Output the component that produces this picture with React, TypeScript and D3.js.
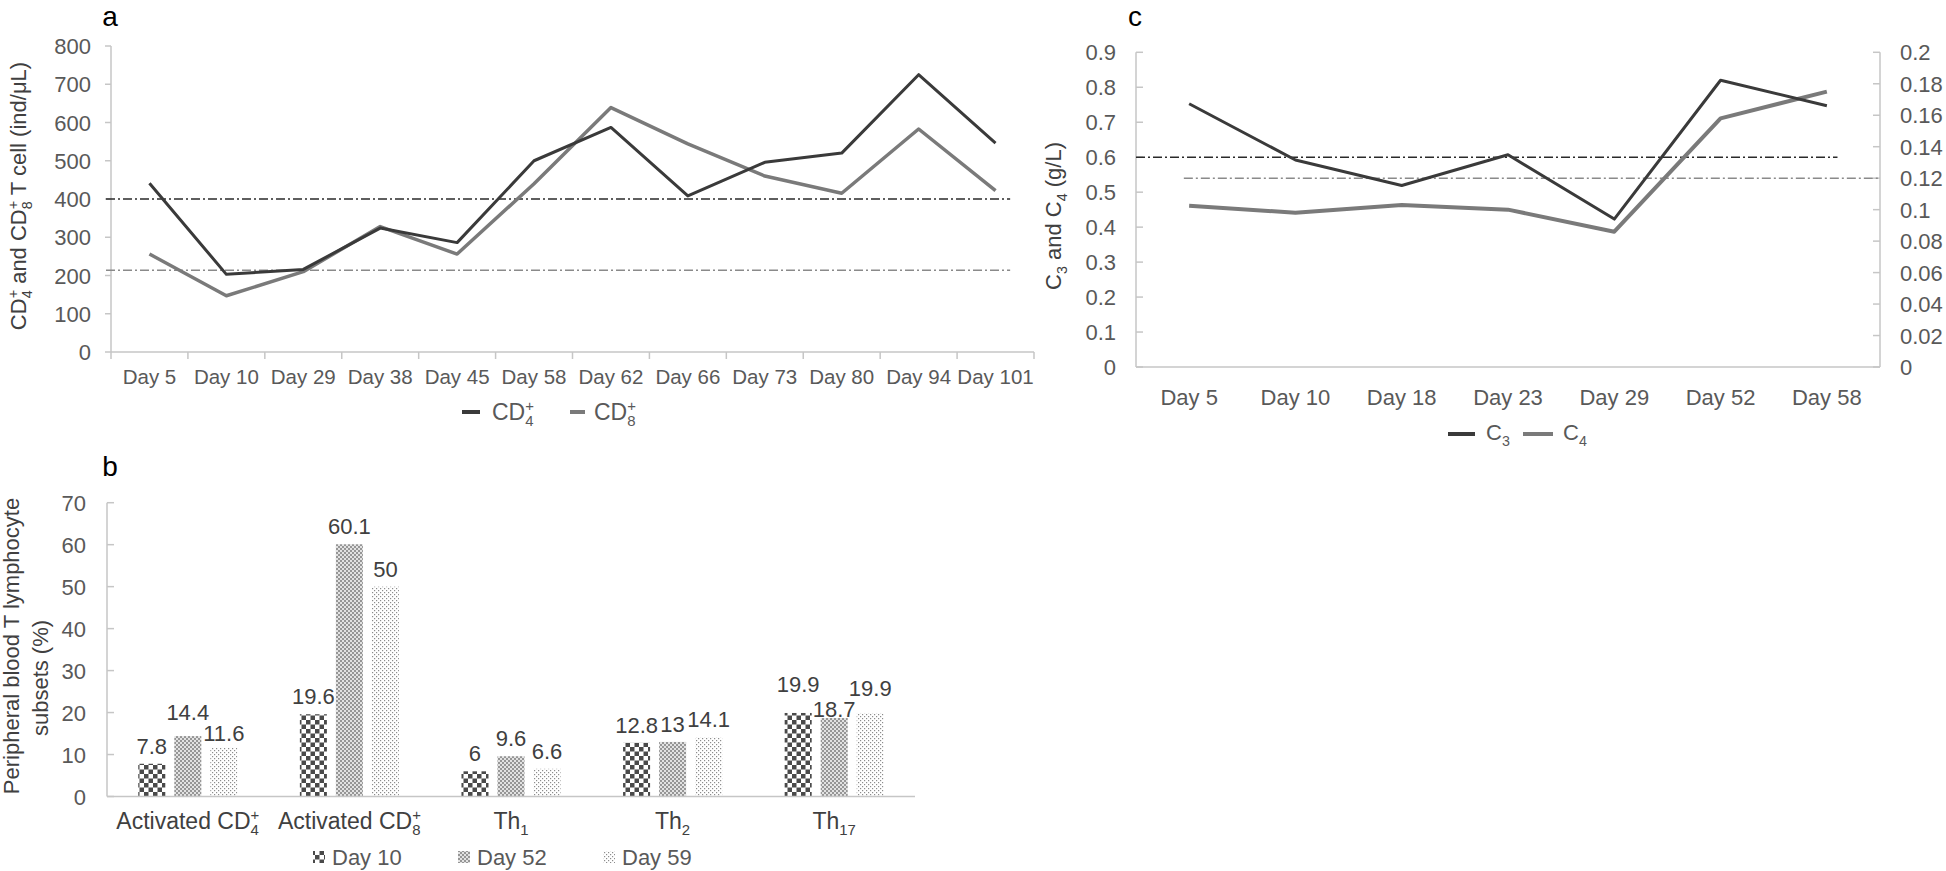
import React from "react";
import * as d3 from "d3";

// ---------- Panel a data ----------
const aDays = ["Day 5", "Day 10", "Day 29", "Day 38", "Day 45", "Day 58", "Day 62", "Day 66", "Day 73", "Day 80", "Day 94", "Day 101"];
const aCD4 = [441, 203, 216, 324, 286, 500, 587, 408, 496, 520, 725, 546];
const aCD8 = [256, 147, 210, 328, 256, 440, 639, 544, 460, 415, 583, 422];
const aTicks = [0, 100, 200, 300, 400, 500, 600, 700, 800];
const aRefCD4 = 400;
const aRefCD8 = 214;

// ---------- Panel b data ----------
const bCats = ["Activated CD4+", "Activated CD8+", "Th1", "Th2", "Th17"];
const bCatBase = ["Activated CD", "Activated CD", "Th", "Th", "Th"];
const bCatSub = ["4", "8", "1", "2", "17"];
const bCatSup = ["+", "+", "", "", ""];
const bSeries = ["Day 10", "Day 52", "Day 59"];
const bDay10 = [7.8, 19.6, 6, 12.8, 19.9];
const bDay52 = [14.4, 60.1, 9.6, 13, 18.7];
const bDay59 = [11.6, 50, 6.6, 14.1, 19.9];
const bTicks = [0, 10, 20, 30, 40, 50, 60, 70];

// ---------- Panel c data ----------
const cDays = ["Day 5", "Day 10", "Day 18", "Day 23", "Day 29", "Day 52", "Day 58"];
const cC3 = [0.753, 0.592, 0.519, 0.607, 0.423, 0.82, 0.747];
const cC4 = [0.1025, 0.098, 0.103, 0.1, 0.086, 0.158, 0.175];
const cLeftTicks = [0, 0.1, 0.2, 0.3, 0.4, 0.5, 0.6, 0.7, 0.8, 0.9];
const cRightTicks = [0, 0.02, 0.04, 0.06, 0.08, 0.1, 0.12, 0.14, 0.16, 0.18, 0.2];
const cRefC3 = 0.6;
const cRefC4 = 0.12;

const FONT = "'Liberation Sans', Arial, Helvetica, sans-serif";
const AXIS = "#c6c6c6";
const TICKTXT = "#595959";
const TITLE = "#404040";
const DARK = "#3a3a3a";
const GRAY = "#7a7a7a";
const FS = 22;

type Seg = { t: string; sub?: string; sup?: string };

function rich(segs: Seg[], fs: number) {
  const out: React.ReactNode[] = [];
  let shift = 0;
  const small = fs * 0.65;
  segs.forEach((s, i) => {
    out.push(
      <tspan key={`t${i}`} dy={shift ? -shift : undefined}>
        {s.t}
      </tspan>
    );
    shift = 0;
    if (s.sub) {
      out.push(
        <tspan key={`b${i}`} fontSize={small} dy={fs * 0.28}>
          {s.sub}
        </tspan>
      );
      shift = fs * 0.28;
    }
    if (s.sup) {
      const back = s.sub ? s.sub.length * 0.556 * small : 0;
      const target = -fs * 0.38;
      out.push(
        <tspan key={`p${i}`} fontSize={small} dx={-back} dy={target - shift}>
          {s.sup}
        </tspan>
      );
      shift = target;
    }
  });
  return out;
}

const fmt = (v: number) => String(+v.toFixed(2));

export default function App() {
  // ---------- a scales ----------
  const xA = d3.scaleBand<string>().domain(aDays).range([111, 1034]);
  const yA = d3.scaleLinear().domain([0, 800]).range([352, 46]);
  const cxA = (i: number) => (xA(aDays[i]) as number) + xA.bandwidth() / 2;
  const lineA = d3
    .line<number>()
    .x((_, i) => cxA(i))
    .y((v) => yA(v));
  const aRefX0 = xA.range()[0] - 5;
  const aRefX1 = cxA(aDays.length - 1) + xA.step() * 0.19;

  // ---------- c scales ----------
  const xC = d3.scaleBand<string>().domain(cDays).range([1136, 1880]);
  const yC = d3.scaleLinear().domain([0, 0.9]).range([367, 52.3]);
  const yC4 = d3.scaleLinear().domain([0, 0.2]).range([367, 52.3]);
  const cxC = (i: number) => (xC(cDays[i]) as number) + xC.bandwidth() / 2;
  const lineC3 = d3
    .line<number>()
    .x((_, i) => cxC(i))
    .y((v) => yC(v));
  const lineC4 = d3
    .line<number>()
    .x((_, i) => cxC(i))
    .y((v) => yC4(v));

  // ---------- b scales ----------
  const xB = d3.scaleBand<string>().domain(bCats).range([107, 915]);
  const xBi = d3
    .scaleBand<string>()
    .domain(bSeries)
    .range([0, xB.bandwidth()])
    .paddingInner(0.25)
    .paddingOuter(0.868);
  const yB = d3.scaleLinear().domain([0, 70]).range([796.5, 502.7]);
  const bVals = [bDay10, bDay52, bDay59];
  const bFill = ["url(#pat10)", "url(#pat52)", "url(#pat59)"];

  // data label placement with simple collision avoidance (like Excel's staggered labels)
  const labelW = (s: string) => s.split("").reduce((w, ch) => w + (ch === "." ? 0.278 : 0.556), 0) * FS;
  const bLabels = bCats.map((c, ci) => {
    const items = bSeries.map((s, si) => {
      const v = bVals[si][ci];
      const x = (xB(c) as number) + (xBi(s) as number) + xBi.bandwidth() / 2;
      return { v, x, cy: yB(v) - 18, w: labelW(String(v)) };
    });
    for (let i = 0; i < items.length - 1; i++) {
      const a = items[i];
      const b = items[i + 1];
      const xOverlap = a.x + a.w / 2 - (b.x - b.w / 2);
      const dy = Math.abs(a.cy - b.cy);
      if (xOverlap > 0 && dy < 21) {
        const need = 21 - dy;
        const hi = a.cy <= b.cy ? a : b;
        const lo = hi === a ? b : a;
        hi.cy -= need * 0.67;
        lo.cy += need * 0.33;
      }
    }
    return items;
  });

  const dash = "9,3,2,3";

  return (
    <svg
      width={1946}
      height={871}
      viewBox="0 0 1946 871"
      style={{ position: "absolute", left: 0, top: 0, background: "#fff" }}
      fontFamily={FONT}
    >
      <defs>
        <pattern id="pat10" patternUnits="userSpaceOnUse" width={9} height={9}>
          <rect width={9} height={9} fill="#ffffff" />
          <rect x={0} y={0} width={4.5} height={4.5} fill="#4a4a4a" />
          <rect x={4.5} y={4.5} width={4.5} height={4.5} fill="#4a4a4a" />
        </pattern>
        <pattern id="pat52" patternUnits="userSpaceOnUse" width={4} height={4}>
          <rect width={4} height={4} fill="#e2e2e2" />
          <rect x={0} y={0} width={2} height={2} fill="#969696" />
          <rect x={2} y={2} width={2} height={2} fill="#969696" />
        </pattern>
        <pattern id="pat59" patternUnits="userSpaceOnUse" width={4} height={4}>
          <rect width={4} height={4} fill="#ffffff" />
          <rect x={0} y={0} width={1.2} height={1.2} fill="#8c8c8c" />
          <rect x={2} y={2} width={1.2} height={1.2} fill="#8c8c8c" />
        </pattern>
      </defs>

      {/* ================= Panel a ================= */}
      <text x={110} y={26} fontSize={28} fill="#000" textAnchor="middle">
        a
      </text>
      <line x1={111} x2={111} y1={yA(800)} y2={yA(0)} stroke={AXIS} strokeWidth={1.5} />
      {aTicks.map((t) => (
        <g key={`aty${t}`}>
          <line x1={105} x2={111} y1={yA(t)} y2={yA(t)} stroke={AXIS} strokeWidth={1.5} />
          <text x={91} y={yA(t) + 8} fontSize={FS} fill={TICKTXT} textAnchor="end">
            {t}
          </text>
        </g>
      ))}
      <line x1={xA.range()[0]} x2={xA.range()[1]} y1={yA(0)} y2={yA(0)} stroke={AXIS} strokeWidth={1.5} />
      {aDays.concat([""]).map((d, i) => {
        const x = xA.range()[0] + i * xA.step();
        return <line key={`atx${i}`} x1={x} x2={x} y1={yA(0)} y2={yA(0) + 7} stroke={AXIS} strokeWidth={1.5} />;
      })}
      {aDays.map((d, i) => (
        <text key={`axl${d}`} x={cxA(i)} y={384} fontSize={20.5} fill={TICKTXT} textAnchor="middle">
          {d}
        </text>
      ))}
      <line x1={aRefX0} x2={aRefX1} y1={yA(aRefCD4)} y2={yA(aRefCD4)} stroke="#2a2a2a" strokeWidth={1.5} strokeDasharray={dash} />
      <line x1={aRefX0} x2={aRefX1} y1={yA(aRefCD8)} y2={yA(aRefCD8)} stroke="#8a8a8a" strokeWidth={1.5} strokeDasharray={dash} />
      <path d={lineA(aCD8) as string} fill="none" stroke={GRAY} strokeWidth={3.5} strokeLinejoin="round" />
      <path d={lineA(aCD4) as string} fill="none" stroke={DARK} strokeWidth={3} strokeLinejoin="round" />
      <text transform={`translate(26,196) rotate(-90)`} fontSize={FS} fill={TITLE} textAnchor="middle">
        {rich(
          [
            { t: "CD", sub: "4", sup: "+" },
            { t: " and CD", sub: "8", sup: "+" },
            { t: " T cell (ind/μL)" },
          ],
          FS
        )}
      </text>
      <line x1={462} x2={480} y1={412} y2={412} stroke={DARK} strokeWidth={4} />
      <text x={492} y={420} fontSize={23} fill={TICKTXT}>
        {rich([{ t: "CD", sub: "4", sup: "+" }], 23)}
      </text>
      <line x1={570} x2={585} y1={412} y2={412} stroke={GRAY} strokeWidth={4} />
      <text x={594} y={420} fontSize={23} fill={TICKTXT}>
        {rich([{ t: "CD", sub: "8", sup: "+" }], 23)}
      </text>

      {/* ================= Panel c ================= */}
      <text x={1135} y={26} fontSize={28} fill="#000" textAnchor="middle">
        c
      </text>
      <line x1={1136} x2={1136} y1={yC(0.9)} y2={yC(0)} stroke={AXIS} strokeWidth={1.5} />
      {cLeftTicks.map((t) => (
        <g key={`cl${t}`}>
          <line x1={1136} x2={1143} y1={yC(t)} y2={yC(t)} stroke={AXIS} strokeWidth={1.5} />
          <text x={1116} y={yC(t) + 8} fontSize={FS} fill={TICKTXT} textAnchor="end">
            {fmt(t)}
          </text>
        </g>
      ))}
      <line x1={1880} x2={1880} y1={yC4(0.2)} y2={yC4(0)} stroke={AXIS} strokeWidth={1.5} />
      {cRightTicks.map((t) => (
        <g key={`cr${t}`}>
          <line x1={1873} x2={1880} y1={yC4(t)} y2={yC4(t)} stroke={AXIS} strokeWidth={1.5} />
          <text x={1900} y={yC4(t) + 8} fontSize={FS} fill={TICKTXT} textAnchor="start">
            {fmt(t)}
          </text>
        </g>
      ))}
      <line x1={xC.range()[0]} x2={xC.range()[1]} y1={yC(0)} y2={yC(0)} stroke={AXIS} strokeWidth={1.5} />
      {cDays.map((d, i) => (
        <text key={`cxl${d}`} x={cxC(i)} y={405} fontSize={FS} fill={TICKTXT} textAnchor="middle">
          {d}
        </text>
      ))}
      <line
        x1={xC.range()[0]}
        x2={cxC(cDays.length - 1) + xC.step() * 0.1}
        y1={yC(cRefC3)}
        y2={yC(cRefC3)}
        stroke="#2a2a2a"
        strokeWidth={1.5}
        strokeDasharray={dash}
      />
      <line
        x1={cxC(0) - xC.step() * 0.05}
        x2={xC.range()[1] - 2}
        y1={yC4(cRefC4)}
        y2={yC4(cRefC4)}
        stroke="#8a8a8a"
        strokeWidth={1.5}
        strokeDasharray={dash}
      />
      <path d={lineC4(cC4) as string} fill="none" stroke={GRAY} strokeWidth={4} strokeLinejoin="round" />
      <path d={lineC3(cC3) as string} fill="none" stroke={DARK} strokeWidth={3} strokeLinejoin="round" />
      <text transform={`translate(1061,216) rotate(-90)`} fontSize={FS} fill={TITLE} textAnchor="middle">
        {rich(
          [
            { t: "C", sub: "3" },
            { t: " and C", sub: "4" },
            { t: " (g/L)" },
          ],
          FS
        )}
      </text>
      <line x1={1448} x2={1475} y1={434} y2={434} stroke={DARK} strokeWidth={4} />
      <text x={1486} y={440} fontSize={FS} fill={TICKTXT}>
        {rich([{ t: "C", sub: "3" }], FS)}
      </text>
      <line x1={1523} x2={1553} y1={434} y2={434} stroke={GRAY} strokeWidth={4} />
      <text x={1563} y={440} fontSize={FS} fill={TICKTXT}>
        {rich([{ t: "C", sub: "4" }], FS)}
      </text>

      {/* ================= Panel b ================= */}
      <text x={110} y={476} fontSize={28} fill="#000" textAnchor="middle">
        b
      </text>
      <line x1={107} x2={107} y1={yB(70)} y2={yB(0)} stroke={AXIS} strokeWidth={1.5} />
      {bTicks.map((t) => (
        <g key={`bt${t}`}>
          <line x1={107} x2={114} y1={yB(t)} y2={yB(t)} stroke={AXIS} strokeWidth={1.5} />
          <text x={86} y={yB(t) + 8} fontSize={FS} fill={TICKTXT} textAnchor="end">
            {t}
          </text>
        </g>
      ))}
      {bCats.map((c, ci) => (
        <g key={`bg${c}`}>
          {bSeries.map((s, si) => {
            const v = bVals[si][ci];
            const x = (xB(c) as number) + (xBi(s) as number);
            const lab = bLabels[ci][si];
            return (
              <g key={`bb${s}`}>
                <rect x={x} y={yB(v)} width={xBi.bandwidth()} height={yB(0) - yB(v)} fill={bFill[si]} />
                <text x={lab.x} y={lab.cy + 8} fontSize={FS} fill={TITLE} textAnchor="middle">
                  {String(v)}
                </text>
              </g>
            );
          })}
          <text
            x={(xB(c) as number) + xB.bandwidth() / 2}
            y={829}
            fontSize={23}
            fill={TITLE}
            textAnchor="middle"
          >
            {rich([{ t: bCatBase[ci], sub: bCatSub[ci], sup: bCatSup[ci] || undefined }], 23)}
          </text>
        </g>
      ))}
      <line x1={xB.range()[0]} x2={xB.range()[1]} y1={yB(0)} y2={yB(0)} stroke={AXIS} strokeWidth={1.5} />
      <text transform={`translate(19,646) rotate(-90)`} fontSize={FS} fill={TITLE} textAnchor="middle">
        Peripheral blood T lymphocyte
      </text>
      <text transform={`translate(48,678) rotate(-90)`} fontSize={FS} fill={TITLE} textAnchor="middle">
        subsets (%)
      </text>
      {bSeries.map((s, si) => (
        <g key={`bl${s}`}>
          <rect x={313 + si * 145} y={851} width={12} height={12} fill={bFill[si]} />
          <text x={332 + si * 145} y={865} fontSize={FS} fill={TICKTXT}>
            {s}
          </text>
        </g>
      ))}
    </svg>
  );
}
